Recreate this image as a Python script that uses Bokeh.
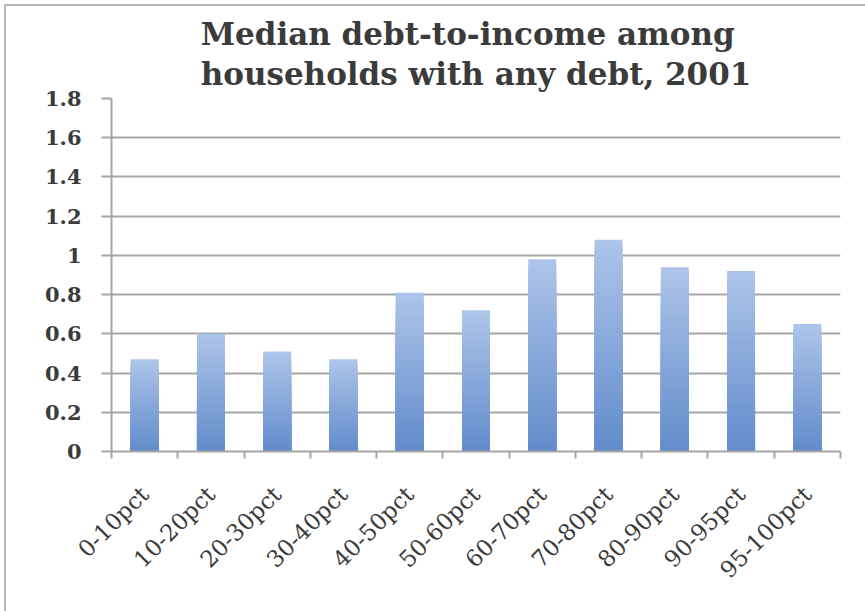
import numpy as np
from bokeh.plotting import figure
from bokeh.models import FixedTicker, Range1d, CustomJSTickFormatter
from bokeh.embed import file_html
from bokeh.resources import INLINE

# ---- data ----
categories = ["0-10pct", "10-20pct", "20-30pct", "30-40pct", "40-50pct", "50-60pct",
              "60-70pct", "70-80pct", "80-90pct", "90-95pct", "95-100pct"]
values = [0.47, 0.60, 0.51, 0.47, 0.81, 0.72, 0.98, 1.08, 0.94, 0.92, 0.65]
y_ticks = [0, 0.2, 0.4, 0.6, 0.8, 1.0, 1.2, 1.4, 1.6, 1.8]
y_tick_labels = ["0", "0.2", "0.4", "0.6", "0.8", "1", "1.2", "1.4", "1.6", "1.8"]
title_lines = ["Median debt-to-income among", "households with any debt, 2001"]

# ---- styling ----
TOP_RGB = np.array([172, 196, 233])
BOT_RGB = np.array([99, 140, 203])
N_SLICES = 40
TEXT = "#3b3b3b"
GRID = "#a6a6a6"

p = figure(frame_width=729, frame_height=353,
           min_border_left=105, min_border_right=25,
           min_border_top=92, min_border_bottom=160,
           x_range=Range1d(0, len(categories)), y_range=Range1d(0, 1.8),
           output_backend="svg", toolbar_location=None,
           title="\n".join(title_lines),
           styles={"border-left": "2px solid #b9b9b9", "border-top": "2px solid #b9b9b9",
                   "margin-left": "4px", "margin-top": "4px"})

# gradient bars: full bar in light colour, then shorter darker layers on top
xs = [i + 0.5 for i in range(len(categories))]
for k in range(N_SLICES):
    frac = 1 - k / N_SLICES
    c = TOP_RGB + (BOT_RGB - TOP_RGB) * (k / (N_SLICES - 1))
    col = "#%02x%02x%02x" % tuple(int(round(v)) for v in c)
    p.vbar(x=xs, bottom=0, top=[v * frac for v in values], width=0.42,
           fill_color=col, line_color=None)

# title
p.title.text_font = "DejaVu Serif"
p.title.text_font_style = "bold"
p.title.text_font_size = "31px"
p.title.text_line_height = 1.1
p.title.text_color = TEXT
p.title.align = "center"
p.title.standoff = 13

# x axis
xa = p.xaxis[0]
xa.ticker = FixedTicker(ticks=xs, minor_ticks=list(range(len(categories) + 1)))
xa.formatter = CustomJSTickFormatter(args=dict(labels=categories),
                                     code="return labels[Math.round(tick - 0.5)];")
xa.major_tick_out = 0
xa.major_tick_in = 0
xa.minor_tick_out = 7
xa.minor_tick_in = 0
xa.minor_tick_line_color = GRID
xa.minor_tick_line_width = 2
xa.axis_line_color = GRID
xa.axis_line_width = 2
xa.major_label_orientation = np.pi / 4
xa.major_label_text_font = "DejaVu Serif"
xa.major_label_text_font_size = "23px"
xa.major_label_text_color = TEXT
xa.major_label_standoff = 32

# y axis
ya = p.yaxis[0]
ya.ticker = FixedTicker(ticks=y_ticks)
ya.formatter = CustomJSTickFormatter(args=dict(labels=y_tick_labels),
                                     code="return labels[Math.round(tick / 0.2)];")
ya.major_tick_out = 10
ya.major_tick_in = 0
ya.minor_tick_line_color = None
ya.major_tick_line_color = GRID
ya.major_tick_line_width = 2
ya.axis_line_color = GRID
ya.axis_line_width = 2
ya.major_label_text_font = "DejaVu Serif"
ya.major_label_text_font_style = "bold"
ya.major_label_text_font_size = "21px"
ya.major_label_text_color = TEXT
ya.major_label_standoff = 20

p.xgrid.grid_line_color = None
p.ygrid.ticker = FixedTicker(ticks=y_ticks)
p.ygrid.grid_line_color = GRID
p.ygrid.grid_line_width = 2
p.outline_line_color = None
p.background_fill_color = "white"
p.border_fill_color = "white"

open("out.html", "w").write(file_html(p, INLINE))
